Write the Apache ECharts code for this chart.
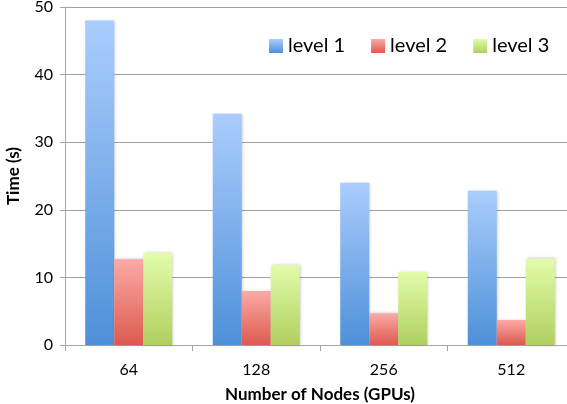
<!DOCTYPE html>
<html>
<head>
<meta charset="utf-8">
<script src="https://cdn.jsdelivr.net/npm/echarts@6/dist/echarts.min.js"></script>
<style>
  html, body { margin: 0; padding: 0; background: #fff; }
  #chart { width: 567px; height: 404px; }
</style>
</head>
<body>
<div id="chart"></div>
<script>
// Run time per refinement level for each node count
const categories = ['64', '128', '256', '512'];
const level1 = [48.0, 34.2, 24.0, 22.8];
const level2 = [12.7, 8.0, 4.7, 3.7];
const level3 = [13.6, 11.8, 10.8, 12.8];
const seriesNames = ['level 1', 'level 2', 'level 3'];
const yTicks = { min: 0, max: 50, step: 10 };

const FONT = 'Lato, "Open Sans", sans-serif';

function vGrad(top, bottom) {
  return {
    type: 'linear', x: 0, y: 0, x2: 0, y2: 1,
    colorStops: [{ offset: 0, color: top }, { offset: 1, color: bottom }]
  };
}

const fills = [
  vGrad('#aacdfd', '#4e90d8'),
  vGrad('#fcaaa6', '#dc5a4f'),
  vGrad('#e2fcaa', '#b0cf5f')
];

function barSeries(name, data, fill) {
  return {
    name: name,
    type: 'bar',
    data: data,
    barWidth: 29,
    barGap: '0%',
    itemStyle: {
      color: fill,
      shadowColor: 'rgba(0,0,0,0.22)',
      shadowBlur: 3,
      shadowOffsetX: 1,
      shadowOffsetY: 0
    }
  };
}

const chart = echarts.init(document.getElementById('chart'), null, { renderer: 'canvas' });
chart.setOption({
  animation: false,
  backgroundColor: '#ffffff',
  textStyle: { fontFamily: FONT },
  grid: {
    left: 65, top: 7, width: 510, height: 338,
    containLabel: false,
    outerBoundsMode: 'none'
  },
  legend: {
    data: seriesNames,
    left: 264,
    top: 31,
    itemWidth: 14,
    itemHeight: 14,
    itemGap: 26,
    icon: 'rect',
    textStyle: { fontFamily: FONT, fontSize: 20, color: '#000' }
  },
  xAxis: {
    type: 'category',
    data: categories,
    name: 'Number of Nodes (GPUs)',
    nameLocation: 'middle',
    nameGap: 41,
    nameTextStyle: { fontFamily: FONT, fontSize: 17, fontWeight: 'bold', color: '#000' },
    axisLine: { lineStyle: { color: '#a6a6a6', width: 1 } },
    axisTick: { show: true, length: 6, lineStyle: { color: '#a6a6a6' } },
    axisLabel: { fontFamily: FONT, fontSize: 16, color: '#000', margin: 17 },
    splitLine: { show: false }
  },
  yAxis: {
    type: 'value',
    min: yTicks.min,
    max: yTicks.max,
    interval: yTicks.step,
    name: 'Time (s)',
    nameLocation: 'middle',
    nameGap: 43,
    nameTextStyle: { fontFamily: FONT, fontSize: 17, fontWeight: 'bold', color: '#000' },
    axisLine: { show: true, lineStyle: { color: '#a6a6a6', width: 1 } },
    axisTick: { show: true, length: 5, lineStyle: { color: '#a6a6a6' } },
    axisLabel: { fontFamily: FONT, fontSize: 16, color: '#000', margin: 12 },
    splitLine: { show: true, lineStyle: { color: '#a0a0a0', width: 1 } }
  },
  series: [
    barSeries(seriesNames[0], level1, fills[0]),
    barSeries(seriesNames[1], level2, fills[1]),
    barSeries(seriesNames[2], level3, fills[2])
  ]
});
</script>
</body>
</html>
